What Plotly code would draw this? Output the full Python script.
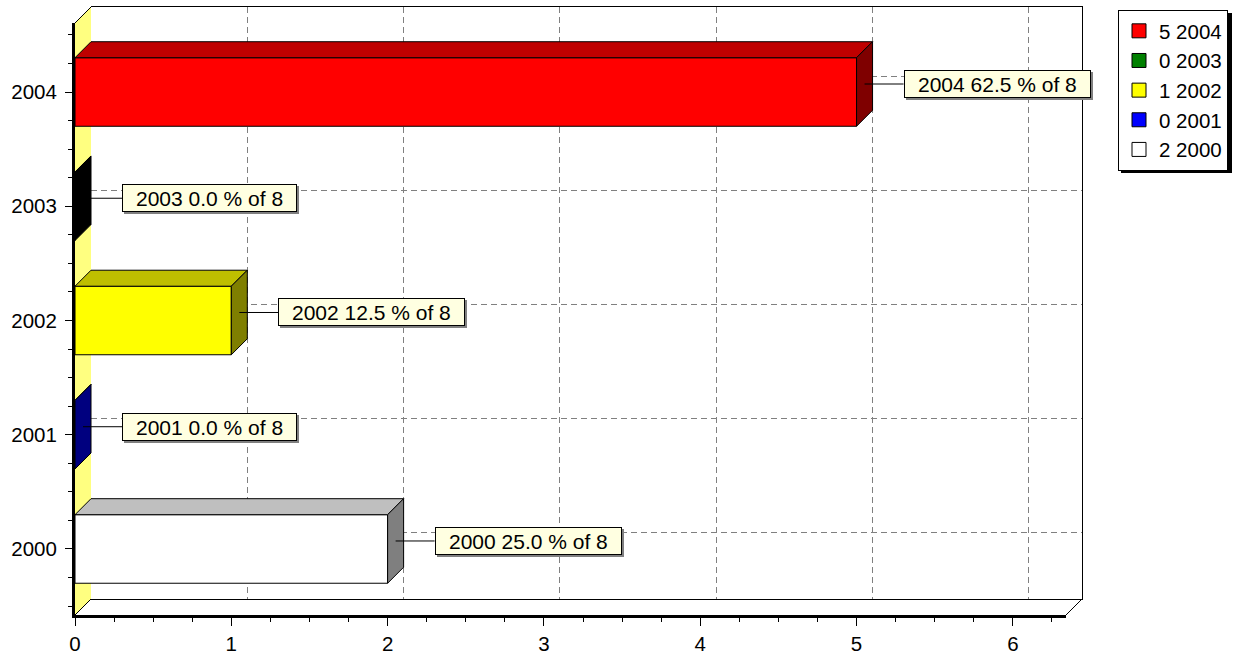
import plotly.graph_objects as go

# ---------------- data ----------------
years = [2004, 2003, 2002, 2001, 2000]
values = [5, 0, 1, 0, 2]
colors = ["#FF0000", "#008000", "#FFFF00", "#0000FF", "#FFFFFF"]
x_ticks = [0, 1, 2, 3, 4, 5, 6]
total = sum(values)

# ---------------- geometry (pixels) ----------------
W, H = 1234, 657
FL, FR, FT, FB = 75, 1066, 23, 615        # front plane box
DEPTH = 16                                # 3D depth in px
BL, BR, BT, BB = FL + DEPTH, FR + DEPTH, FT - DEPTH, FB - DEPTH
PW, PH = BR - FL, FB - BT

X_RANGE = [0, 6.34]
Y_RANGE = [-0.578, 4.604]
BAR_HALF = 0.3
FONT = "Liberation Sans"
TICK_SIZE = 20.5
LABEL_SIZE = 21
LEG_L, LEG_T, LEG_R, LEG_B = 1118, 10, 1229, 170   # legend box (px), for shadow

dxv = DEPTH * (X_RANGE[1] - X_RANGE[0]) / (FR - FL)
dyv = DEPTH * (Y_RANGE[1] - Y_RANGE[0]) / (FB - FT)
label_gap = 47 * (X_RANGE[1] - X_RANGE[0]) / (FR - FL)


def px(x):
    return (x - FL) / PW


def py(y):
    return (FB - y) / PH


def shade(hexc, amt):
    r, g, b = (int(hexc[i:i + 2], 16) for i in (1, 3, 5))
    return "#%02X%02X%02X" % tuple(max(0, c - amt) for c in (r, g, b))


CW = {"0": .556, "1": .556, "2": .556, "3": .556, "4": .556, "5": .556,
      "6": .556, "7": .556, "8": .556, "9": .556, " ": .278, ".": .278,
      "%": .889, "o": .556, "f": .278}


def text_w(s, size):
    return sum(CW.get(c, .556) for c in s) * size


fig = go.Figure()

# invisible trace to hold the back (wall) subplot
fig.add_trace(go.Scatter(x=[None], y=[None], xaxis="x", yaxis="y",
                         showlegend=False, hoverinfo="skip"))

base = min(years)
annotations = []
for yr, v, c in zip(years, values, colors):
    p = yr - base
    y0, y1 = p - BAR_HALF, p + BAR_HALF
    line = dict(color="black", width=1)
    # front face
    fig.add_trace(go.Scatter(
        x=[0, v, v, 0, 0], y=[y0, y0, y1, y1, y0], xaxis="x2", yaxis="y2",
        mode="lines", fill="toself", fillcolor=c, line=line,
        showlegend=False, hoverinfo="skip"))
    # top face
    fig.add_trace(go.Scatter(
        x=[0, v, v + dxv, dxv, 0], y=[y1, y1, y1 + dyv, y1 + dyv, y1],
        xaxis="x2", yaxis="y2", mode="lines", fill="toself",
        fillcolor=shade(c, 64), line=line, showlegend=False, hoverinfo="skip"))
    # side face
    fig.add_trace(go.Scatter(
        x=[v, v + dxv, v + dxv, v, v], y=[y0, y0 + dyv, y1 + dyv, y1, y0],
        xaxis="x2", yaxis="y2", mode="lines", fill="toself",
        fillcolor=shade(c, 128), line=line, showlegend=False, hoverinfo="skip"))
    # leader line
    ly = p + dyv / 2
    fig.add_trace(go.Scatter(
        x=[v + dxv / 2, v + label_gap], y=[ly, ly], xaxis="x2", yaxis="y2",
        mode="lines", line=dict(color="black", width=1),
        showlegend=False, hoverinfo="skip"))
    txt = "%d %.1f %% of %d" % (yr, 100.0 * v / total, total)
    bw = text_w(txt, LABEL_SIZE) + 26
    common = dict(x=v + label_gap, y=ly, xref="x2", yref="y2",
                  xanchor="left", yanchor="middle", showarrow=False,
                  width=bw, height=26, borderpad=0, borderwidth=1)
    annotations.append(dict(text=txt, xshift=2, yshift=-2, bgcolor="#808080",
                            bordercolor="#808080",
                            font=dict(family=FONT, size=LABEL_SIZE, color="#808080"),
                            **common))
    annotations.append(dict(text=txt, bgcolor="#FFFFE1", bordercolor="black",
                            font=dict(family=FONT, size=LABEL_SIZE, color="black"),
                            **common))

# legend entries
for yr, v, c in zip(years, values, colors):
    fig.add_trace(go.Scatter(
        x=[None], y=[None], xaxis="x2", yaxis="y2", mode="markers",
        name="%d %d" % (v, yr),
        marker=dict(symbol="square", size=14, color=c,
                    line=dict(color="black", width=1))))

positions = [yr - base for yr in years]

shapes = [
    # left wall
    dict(type="path", xref="paper", yref="paper", layer="below",
         path="M%f,%f L%f,%f L%f,%f L%f,%f Z" % (
             px(FL), py(FB), px(FL), py(FT), px(BL), py(BT), px(BL), py(BB)),
         fillcolor="#FFFF80", line=dict(width=0)),
    # legend shadow
    dict(type="rect", xref="paper", yref="paper", layer="above",
         x0=px(LEG_L + 3), x1=px(LEG_R + 3), y0=py(LEG_T + 3), y1=py(LEG_B + 3),
         fillcolor="black", line=dict(width=0)),
]
for (xa, ya, xb, yb) in [(FL, FT, BL, BT), (FL, FB, BL, BB), (FR, FB, BR, BB)]:
    shapes.append(dict(type="line", xref="paper", yref="paper", layer="above",
                       x0=px(xa), y0=py(ya), x1=px(xb), y1=py(yb),
                       line=dict(color="black", width=1)))

grid = dict(showgrid=True, gridcolor="#808080", gridwidth=1, griddash="6px,4px",
            zeroline=False, showticklabels=False, ticks="", fixedrange=True,
            automargin=False)

fig.update_layout(
    template="none",
    width=W, height=H,
    margin=dict(l=FL, r=W - BR, t=BT, b=H - FB, pad=0, autoexpand=False),
    paper_bgcolor="white", plot_bgcolor="rgba(0,0,0,0)",
    font=dict(family=FONT, size=TICK_SIZE, color="black"),
    xaxis=dict(domain=[px(BL), 1], range=X_RANGE, anchor="y",
               tickmode="array", tickvals=x_ticks,
               showline=True, mirror=True, linecolor="black", linewidth=1, **grid),
    yaxis=dict(domain=[py(BB), 1], range=Y_RANGE, anchor="x", side="right",
               tickmode="array", tickvals=positions,
               showline=True, linecolor="black", linewidth=1, **grid),
    xaxis2=dict(domain=[0, px(FR)], range=X_RANGE, anchor="y2",
                tickmode="array", tickvals=x_ticks,
                ticks="outside", ticklen=8, tickwidth=1, tickcolor="black",
                minor=dict(ticks="outside", tickmode="linear", tick0=0, dtick=0.25,
                           ticklen=4, tickwidth=1, tickcolor="black"),
                showgrid=False, zeroline=False, showline=True, linecolor="black",
                linewidth=3, tickfont=dict(family=FONT, size=TICK_SIZE, color="black"),
                fixedrange=True, automargin=False),
    yaxis2=dict(domain=[0, py(FT)], range=Y_RANGE, anchor="x2",
                tickmode="array", tickvals=positions, ticktext=[str(y) for y in years],
                ticks="outside", ticklen=7, tickwidth=1, tickcolor="black",
                minor=dict(ticks="outside", tickmode="linear", tick0=0, dtick=0.25,
                           ticklen=4, tickwidth=1, tickcolor="black"),
                showgrid=False, zeroline=False, showline=True, linecolor="black",
                linewidth=3, tickfont=dict(family=FONT, size=TICK_SIZE, color="black"),
                ticklabelstandoff=4, fixedrange=True, automargin=False),
    legend=dict(xref="container", yref="container", x=LEG_L / W, y=1 - LEG_T / H,
                xanchor="left", yanchor="top", bgcolor="white",
                bordercolor="black", borderwidth=1, traceorder="normal",
                itemwidth=30,
                font=dict(family=FONT, size=TICK_SIZE, color="black")),
    shapes=shapes,
    annotations=annotations,
    showlegend=True,
)

fig.write_html("out.html", config={"displayModeBar": False},
               post_script="document.body.style.margin='0px';")
